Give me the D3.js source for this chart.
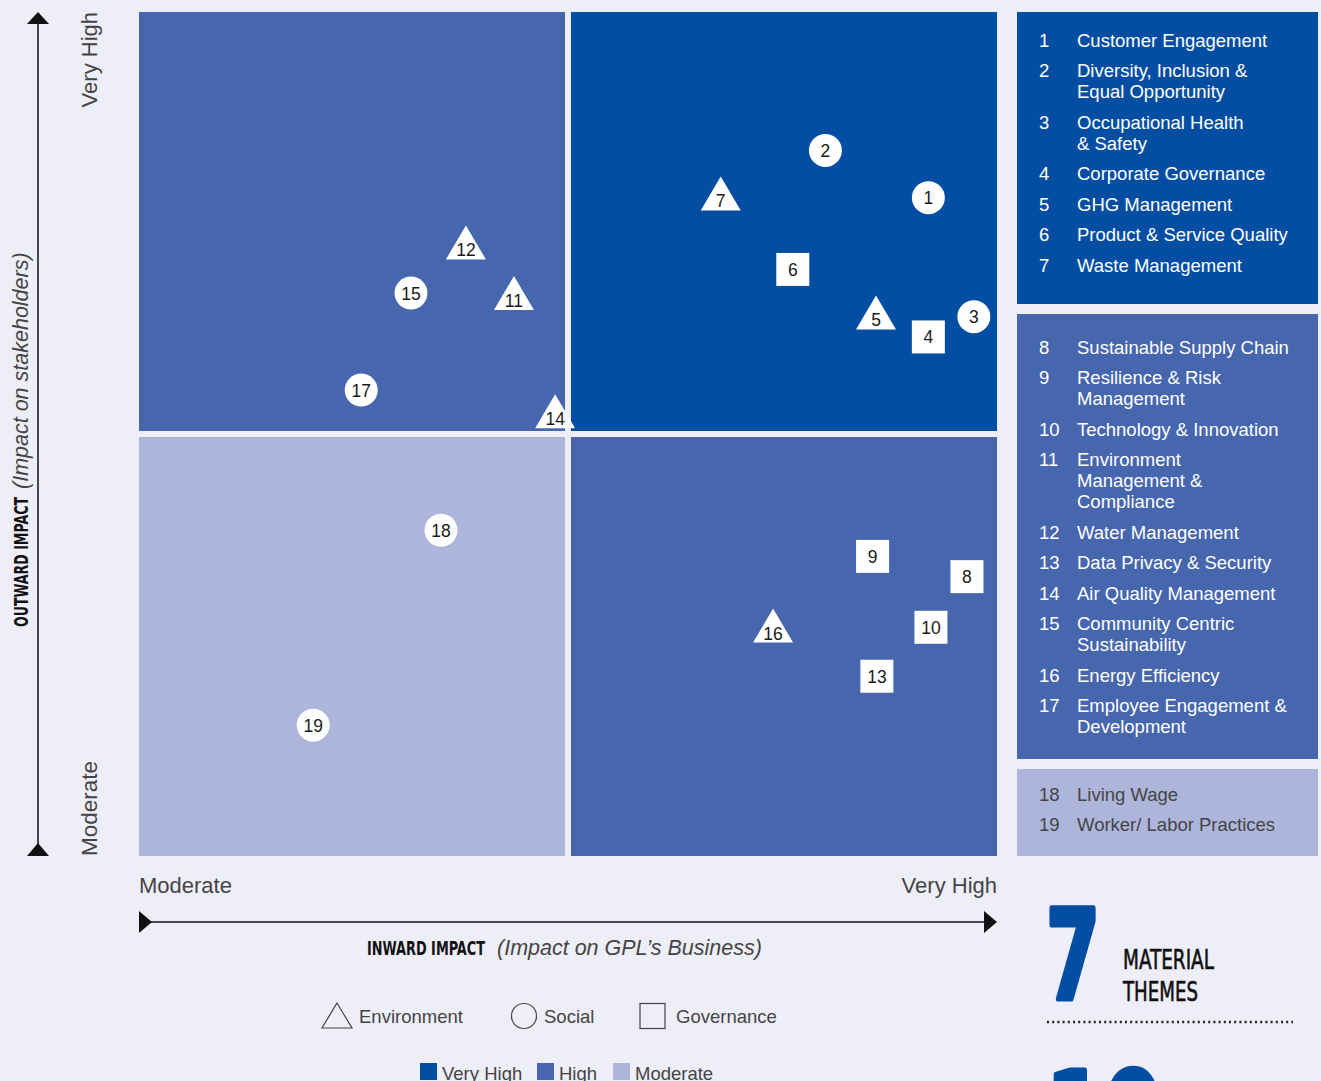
<!DOCTYPE html>
<html>
<head>
<meta charset="utf-8">
<script src="https://cdn.jsdelivr.net/npm/d3@7"></script>
<style>
  html, body { margin: 0; padding: 0; background: #EEEEF8; }
  svg { display: block; }
</style>
</head>
<body>
<svg id="chart" width="1321" height="1081"></svg>
<script>
// ---------------- DATA ----------------
const themeIds = [1,2,3,4,5,6,7,8,9,10,11,12,13,14,15,16,17,18,19];
const themeNames = [
  "Customer Engagement",
  "Diversity, Inclusion &|Equal Opportunity",
  "Occupational Health|& Safety",
  "Corporate Governance",
  "GHG Management",
  "Product & Service Quality",
  "Waste Management",
  "Sustainable Supply Chain",
  "Resilience & Risk|Management",
  "Technology & Innovation",
  "Environment|Management &|Compliance",
  "Water Management",
  "Data Privacy & Security",
  "Air Quality Management",
  "Community Centric|Sustainability",
  "Energy Efficiency",
  "Employee Engagement &|Development",
  "Living Wage",
  "Worker/ Labor Practices"
];
const themeTypes = ["Social","Social","Social","Governance","Environment","Governance","Environment",
  "Governance","Governance","Governance","Environment","Environment","Governance","Environment",
  "Social","Environment","Social","Social","Social"];
const themeMateriality = ["Very High","Very High","Very High","Very High","Very High","Very High","Very High",
  "High","High","High","High","High","High","High","High","High","High","Moderate","Moderate"];
// inward impact (x, 0-100) and outward impact (y, 0-100)
const inwardImpact  = [92.0, 80.0, 97.3, 92.0, 85.9, 76.2, 67.8, 96.5, 85.5, 92.3, 43.7, 38.1, 86.0, 48.5, 31.7, 73.9, 25.9, 35.2, 20.3];
const outwardImpact = [78.0, 83.6, 63.9, 61.5, 64.4, 69.5, 78.5, 33.1, 35.5, 27.1, 66.7, 72.7, 21.3, 52.7, 66.7, 27.3, 55.2, 38.6, 15.5];

const levels = ["Very High", "High", "Moderate"];
const levelColors = ["#034EA2", "#4666AE", "#ADB5DB"];
const quadrantX0 = [50, 0, 50, 0];
const quadrantY0 = [50, 50, 0, 0];
const quadrantLevel = ["Very High", "High", "High", "Moderate"];

const shapeTypes = ["Environment", "Social", "Governance"];
const axisEndLabels = ["Moderate", "Very High"];
const headline = { number: "7", words: ["MATERIAL", "THEMES"], next: "19" };

// ---------------- CHART ----------------
const svg = d3.select("#chart");
const color = d3.scaleOrdinal(levels, levelColors);
const x = d3.scaleLinear([0, 100], [139, 997]);
const y = d3.scaleLinear([0, 100], [856, 12]);
const gap = 3;
const FONT = "'Liberation Sans', Arial, Helvetica, sans-serif";
const COND = "'DejaVu Sans Condensed', 'DejaVu Sans', sans-serif";

// quadrants
svg.append("g").selectAll("rect")
  .data(quadrantLevel.map((l, i) => ({ l, x0: quadrantX0[i], y0: quadrantY0[i] })))
  .join("rect")
  .attr("x", d => x(d.x0) + (d.x0 === 50 ? gap : 0))
  .attr("y", d => y(d.y0 + 50) + (d.y0 === 0 ? gap : 0))
  .attr("width", d => x(d.x0 + 50) - x(d.x0) - gap)
  .attr("height", d => y(d.y0) - y(d.y0 + 50) - gap)
  .attr("fill", d => color(d.l));

// points
const pts = themeIds.map((id, i) => ({ id, type: themeTypes[i], xv: inwardImpact[i], yv: outwardImpact[i] }));
const pg = svg.append("g").selectAll("g").data(pts).join("g")
  .attr("transform", d => `translate(${x(d.xv)},${y(d.yv)})`);
pg.each(function(d) {
  const g = d3.select(this);
  if (d.type === "Social") {
    g.append("circle").attr("r", 16.5).attr("fill", "#fff");
  } else if (d.type === "Governance") {
    g.append("rect").attr("x", -16.5).attr("y", -16.5).attr("width", 33).attr("height", 33).attr("fill", "#fff");
  } else {
    g.append("path").attr("d", "M0,-17 L20,17 L-20,17 Z").attr("fill", "#fff");
  }
  g.append("text")
    .attr("text-anchor", "middle")
    .attr("y", d.type === "Environment" ? 14 : 6.5)
    .attr("font-family", FONT).attr("font-size", 17.5).attr("fill", "#1a1a1a")
    .text(d.id);
});

// vertical axis
const ax = svg.append("g");
ax.append("line").attr("x1", 38).attr("x2", 38).attr("y1", y(100) + 8).attr("y2", y(0) - 8)
  .attr("stroke", "#111").attr("stroke-width", 1.5);
ax.append("path").attr("d", `M38,${y(100)} L49,${y(100) + 12} L27,${y(100) + 12} Z`).attr("fill", "#111");
ax.append("path").attr("d", `M38,${y(0) - 13} L49,${y(0)} L27,${y(0)} Z`).attr("fill", "#111");
// horizontal axis
const hy = 922;
ax.append("line").attr("x1", x(0) + 4).attr("x2", x(100) - 6).attr("y1", hy).attr("y2", hy)
  .attr("stroke", "#111").attr("stroke-width", 1.5);
ax.append("path").attr("d", `M${x(0) + 13},${hy} L${x(0)},${hy + 11} L${x(0)},${hy - 11} Z`).attr("fill", "#111");
ax.append("path").attr("d", `M${x(100)},${hy} L${x(100) - 13},${hy + 11} L${x(100) - 13},${hy - 11} Z`).attr("fill", "#111");

// axis end labels
const lab = svg.append("g").attr("font-family", FONT).attr("font-size", 22).attr("fill", "#444");
lab.append("text").attr("x", x(0)).attr("y", 893).text(axisEndLabels[0]);
lab.append("text").attr("x", x(100)).attr("y", 893).attr("text-anchor", "end").text(axisEndLabels[1]);
lab.append("text").attr("transform", `translate(97,${y(100)}) rotate(-90)`).attr("text-anchor", "end").text(axisEndLabels[1]);
lab.append("text").attr("transform", `translate(97,${y(0)}) rotate(-90)`).attr("text-anchor", "start")
  .attr("font-size", 22.5).text(axisEndLabels[0]);

// axis titles
svg.append("text").attr("x", 367).attr("y", 955)
  .attr("font-family", COND).attr("font-weight", "bold").attr("font-size", 19).attr("fill", "#111")
  .attr("textLength", 118).attr("lengthAdjust", "spacingAndGlyphs").text("INWARD IMPACT");
svg.append("text").attr("x", 497).attr("y", 955)
  .attr("font-family", FONT).attr("font-style", "italic").attr("font-size", 21.5).attr("fill", "#444")
  .text("(Impact on GPL’s Business)");
svg.append("text").attr("transform", "translate(28,627) rotate(-90)")
  .attr("font-family", COND).attr("font-weight", "bold").attr("font-size", 19).attr("fill", "#111")
  .attr("textLength", 130).attr("lengthAdjust", "spacingAndGlyphs").text("OUTWARD IMPACT");
svg.append("text").attr("transform", "translate(28,489) rotate(-90)")
  .attr("font-family", FONT).attr("font-style", "italic").attr("font-size", 21.5).attr("fill", "#444")
  .text("(Impact on stakeholders)");

// shape legend
const sl = svg.append("g").attr("font-family", FONT).attr("font-size", 18.5).attr("fill", "#444");
const slX = [322, 511, 640];
shapeTypes.forEach((t, i) => {
  const gx = slX[i];
  if (t === "Environment") {
    sl.append("path").attr("d", `M${gx + 15},1003 L${gx + 30},1028 L${gx},1028 Z`)
      .attr("fill", "none").attr("stroke", "#444").attr("stroke-width", 1.2);
    sl.append("text").attr("x", gx + 37).attr("y", 1023).text(t);
  } else if (t === "Social") {
    sl.append("circle").attr("cx", gx + 13).attr("cy", 1016).attr("r", 12.5)
      .attr("fill", "none").attr("stroke", "#444").attr("stroke-width", 1.2);
    sl.append("text").attr("x", gx + 33).attr("y", 1023).text(t);
  } else {
    sl.append("rect").attr("x", gx).attr("y", 1003.5).attr("width", 25).attr("height", 25)
      .attr("fill", "none").attr("stroke", "#444").attr("stroke-width", 1.2);
    sl.append("text").attr("x", gx + 36).attr("y", 1023).text(t);
  }
});

// color legend
const cl = svg.append("g").attr("font-family", FONT).attr("font-size", 18.5).attr("fill", "#444");
const clX = [420, 537, 613];
levels.forEach((l, i) => {
  cl.append("rect").attr("x", clX[i]).attr("y", 1063).attr("width", 17).attr("height", 17).attr("fill", color(l));
  cl.append("text").attr("x", clX[i] + 22).attr("y", 1080).text(l);
});

// right-hand theme list boxes
const boxTop = { "Very High": 12, "High": 314, "Moderate": 769 };
const boxBottom = { "Very High": 304, "High": 759, "Moderate": 856 };
const firstLine = { "Very High": 40, "High": 347, "Moderate": 794 };
const rl = svg.append("g").attr("font-family", FONT).attr("font-size", 18.5);
levels.forEach(l => {
  rl.append("rect").attr("x", 1017).attr("y", boxTop[l]).attr("width", 301)
    .attr("height", boxBottom[l] - boxTop[l]).attr("fill", color(l));
  const txtColor = l === "Moderate" ? "#444" : "#fff";
  let cy = firstLine[l];
  themeIds.forEach((id, i) => {
    if (themeMateriality[i] !== l) return;
    rl.append("text").attr("x", 1039).attr("y", cy + 6.5).attr("fill", txtColor).text(id);
    themeNames[i].split("|").forEach((line, k) => {
      rl.append("text").attr("x", 1077).attr("y", cy + 6.5).attr("fill", txtColor).text(line);
      cy += 21;
    });
    cy += 9.5;
  });
});

// headline block
svg.append("text").attr("x", 1046).attr("y", 999)
  .attr("font-family", COND).attr("font-weight", "bold").attr("font-size", 125).attr("fill", "#034EA2")
  .attr("stroke", "#034EA2").attr("stroke-width", 5).attr("stroke-linejoin", "round")
  .attr("textLength", 54).attr("lengthAdjust", "spacingAndGlyphs").text(headline.number);
headline.words.forEach((w, i) => {
  svg.append("text").attr("x", 1123).attr("y", 969 + i * 32)
    .attr("font-family", COND).attr("font-size", 27).attr("fill", "#111")
    .attr("stroke", "#111").attr("stroke-width", 0.6)
    .attr("textLength", i === 0 ? 91 : 75).attr("lengthAdjust", "spacingAndGlyphs").text(w);
});
svg.append("line").attr("x1", 1047).attr("x2", 1293).attr("y1", 1022).attr("y2", 1022)
  .attr("stroke", "#222").attr("stroke-width", 2.5).attr("stroke-dasharray", "2,3.2");
svg.append("text").attr("x", 1046).attr("y", 1161)
  .attr("font-family", COND).attr("font-weight", "bold").attr("font-size", 125).attr("fill", "#034EA2")
  .attr("stroke", "#034EA2").attr("stroke-width", 5).attr("stroke-linejoin", "round")
  .attr("textLength", 118).attr("lengthAdjust", "spacingAndGlyphs").text(headline.next);
</script>
</body>
</html>
